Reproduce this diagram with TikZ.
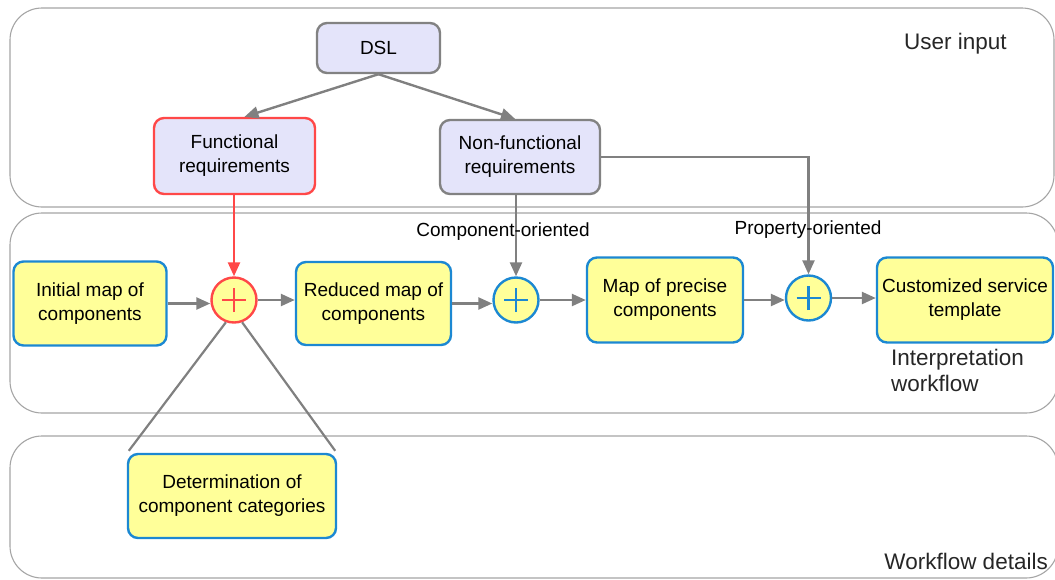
\documentclass[tikz,border=0pt]{standalone}
\usepackage{fontspec}
\setmainfont{Liberation Sans}
\usetikzlibrary{arrows.meta}
\definecolor{lanegray}{RGB}{165,165,165}
\definecolor{flowgray}{RGB}{128,128,128}
\definecolor{boxgray}{RGB}{130,130,130}
\definecolor{lavender}{RGB}{228,228,250}
\definecolor{paleyellow}{RGB}{255,255,153}
\definecolor{taskblue}{RGB}{28,136,210}
\definecolor{reqred}{RGB}{255,72,72}
\tikzset{
  lane/.style={draw=lanegray, line width=1.1pt, rounded corners=32pt},
  lanelabel/.style={font=\fontsize{22.5}{26}\selectfont, text=black!85, inner sep=0pt},
  reqbox/.style={draw=boxgray, fill=lavender, line width=2.4pt, rounded corners=10pt,
    align=center, font=\fontsize{19}{24}\selectfont, inner sep=1pt},
  taskbox/.style={draw=taskblue, fill=paleyellow, line width=2.4pt, rounded corners=10pt,
    align=center, font=\fontsize{19}{24}\selectfont, inner sep=1pt},
  joinnode/.style={circle, draw=taskblue, fill=paleyellow, line width=2.4pt,
    minimum size=45pt, inner sep=0pt},
  flow/.style={draw=flowgray, line width=2.4pt, -{Triangle[length=14pt,width=12pt]}},
  link/.style={draw=flowgray, line width=2.2pt},
  edgelabel/.style={font=\fontsize{19}{22}\selectfont, inner sep=0pt, fill=none}
}
\newcommand{\plusmark}[2]{%
  \draw[#2, line width=2.6pt] ([xshift=-12pt]#1.center) -- ([xshift=12pt]#1.center)
    ([yshift=-12pt]#1.center) -- ([yshift=12pt]#1.center);}
\begin{document}
\begin{tikzpicture}[x=1pt, y=-1pt]
\useasboundingbox (0,0) rectangle (1055,579);

% swimlanes
\draw[lane] (10,8) rectangle (1054,207);
\draw[lane] (10,213) rectangle (1058,413);
\draw[lane] (10,436) rectangle (1058,578);
\node[lanelabel, anchor=west] (lblinput) at (904,44) {User input};
\node[lanelabel, anchor=north west, align=left] (lblinterp) at (891,349) {Interpretation\\workflow};
\node[lanelabel, anchor=east] (lbldetails) at (1048,561) {Workflow details};

% user input
\node[reqbox, minimum width=123pt, minimum height=50pt] (dsl) at (378.5,48) {DSL};
\node[reqbox, draw=reqred, minimum width=161pt, minimum height=76pt] (func) at (234.5,156) {Functional\\requirements};
\node[reqbox, minimum width=160pt, minimum height=74pt] (nonfunc) at (520,157) {Non-functional\\requirements};

% interpretation workflow
\node[taskbox, minimum width=153pt, minimum height=84pt] (initial) at (90,303.5) {Initial map of\\components};
\node[joinnode, draw=reqred] (join1) at (234,300) {};
\node[taskbox, minimum width=155pt, minimum height=83pt] (reduced) at (373.5,303.5) {Reduced map of\\components};
\node[joinnode] (join2) at (516,300) {};
\node[taskbox, minimum width=156pt, minimum height=85pt] (precise) at (665,300) {Map of precise\\components};
\node[joinnode] (join3) at (808.5,298) {};
\node[taskbox, minimum width=176pt, minimum height=85pt] (custom) at (965,300) {Customized service\\template};

\plusmark{join1}{reqred}
\plusmark{join2}{taskblue}
\plusmark{join3}{taskblue}

% workflow details
\node[taskbox, minimum width=208pt, minimum height=84pt] (categories) at (232,496) {Determination of\\component categories};

% connectors
\draw[flow] (dsl.south) -- ([xshift=10pt]func.north);
\draw[flow] (dsl.south) -- ([xshift=-5pt]nonfunc.north);
\draw[flow, draw=reqred] (func.south -| join1) -- (join1.north);
\draw[flow] (nonfunc.south -| join2) -- (join2.north);
\coordinate (bend) at (join3 |- nonfunc.east);
\draw[flow] (nonfunc.east) -- (bend) -- (join3.north);
\draw[flow] (initial.east) -- (initial.east -| join1.west);
\draw[flow] (join1.east) -- (join1.east -| reduced.west);
\draw[flow] (reduced.east) -- (reduced.east -| join2.west);
\draw[flow] (join2.east) -- (join2.east -| precise.west);
\draw[flow] (precise.east) -- (precise.east -| join3.west);
\draw[flow] (join3.east) -- (join3.east -| custom.west);
\draw[link] (join1.-110) -- ([xshift=2pt,yshift=2pt]categories.north west);
\draw[link] (join1.-70) -- ([xshift=-2pt,yshift=2pt]categories.north east);

% flow labels over the vertical connectors
\node[edgelabel] (lblcomp) at (503,232) {Component-oriented};
\node[edgelabel] (lblprop) at (808,230) {Property-oriented};
\end{tikzpicture}
\end{document}
